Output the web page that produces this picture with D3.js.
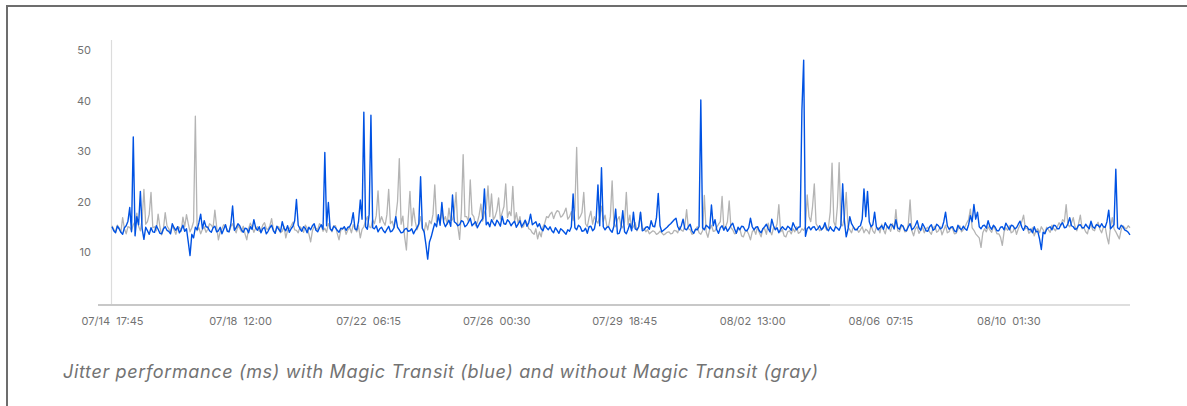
<!DOCTYPE html>
<html><head><meta charset="utf-8">
<script src="https://cdn.jsdelivr.net/npm/d3@7"></script>
<style>
body{margin:0;background:#fff;}
svg{display:block;font-family:Inter,"Noto Sans",sans-serif;}
</style></head><body>
<svg id="c" width="1187" height="406"></svg>
<script>
const startTime = "2019-07-14T17:45";
const stepMinutes = 75;
const yTicks = [10, 20, 30, 40, 50];
const xTicks = ["2019-07-14T17:45","2019-07-18T12:00","2019-07-22T06:15","2019-07-26T00:30","2019-07-29T18:45","2019-08-02T13:00","2019-08-06T07:15","2019-08-10T01:30"];
const caption = "Jitter performance (ms) with Magic Transit (blue) and without Magic Transit (gray)";

const withMagicTransit = [
15.0,14.2,13.8,15.1,14.6,13.9,13.5,14.8,15.2,16.1,18.8,14.0,32.8,13.2,17.0,15.4,22.0,14.6,12.5,14.9,
14.2,13.5,14.8,14.0,13.9,15.2,14.5,13.7,13.6,14.6,15.0,14.3,14.1,13.6,15.6,14.8,14.3,15.0,13.8,14.4,
15.3,14.1,14.6,12.0,9.3,13.5,12.8,14.9,14.4,15.8,17.5,14.6,16.2,15.0,14.9,14.2,13.9,14.8,15.1,14.0,
14.2,14.9,13.6,14.5,15.4,14.1,14.0,15.5,19.1,14.3,14.8,15.6,15.2,14.4,13.9,14.7,14.6,13.8,15.0,14.5,
16.4,14.8,14.3,15.0,13.8,14.6,14.9,13.6,14.1,14.8,15.3,14.2,13.7,15.1,14.5,14.0,16.0,14.7,14.2,15.2,
13.9,14.6,15.1,16.2,20.4,15.3,14.6,14.1,15.0,14.7,13.8,14.9,14.4,15.2,15.6,14.3,14.0,14.8,15.4,14.5,
29.7,15.2,19.8,14.6,14.2,15.1,14.8,14.3,13.9,14.7,14.6,15.0,14.3,14.9,15.0,15.8,17.8,14.6,14.4,16.0,
20.3,16.5,37.7,15.0,14.5,17.5,37.1,14.8,14.6,15.2,14.0,14.6,14.9,14.2,13.8,14.5,15.1,14.0,14.2,14.8,
17.0,14.9,14.4,13.8,13.9,14.5,14.7,14.1,14.2,14.6,13.6,14.3,14.8,15.6,24.9,14.7,14.0,11.5,8.6,12.0,
13.0,14.4,15.7,15.0,17.4,15.3,19.8,15.9,15.0,15.6,16.3,15.1,21.3,16.0,15.7,15.2,15.4,16.2,16.0,15.0,
15.3,15.9,16.7,15.2,15.6,16.0,14.8,15.5,16.1,16.6,22.5,15.4,15.9,15.0,16.4,15.7,15.2,16.3,15.8,15.1,
17.1,15.6,15.5,16.4,16.0,15.2,15.7,16.1,14.9,15.5,16.2,15.0,15.6,16.3,15.1,15.8,17.5,15.4,15.7,16.0,
15.0,15.6,14.6,14.2,15.3,14.8,14.4,15.0,14.2,13.8,14.8,14.3,13.7,14.6,14.3,13.9,13.5,14.4,14.1,15.0,
21.5,14.8,14.4,15.3,15.0,14.1,14.2,14.7,13.7,15.0,15.1,14.2,14.6,16.5,23.3,15.2,26.7,15.0,14.4,14.9,
15.0,14.3,13.9,15.1,18.5,13.6,13.7,14.8,18.2,14.0,13.6,14.5,15.6,14.2,17.9,14.6,14.4,15.0,17.9,14.2,
14.4,14.9,15.0,14.5,16.2,15.1,15.0,16.8,21.6,15.2,14.0,14.3,14.6,14.9,15.3,15.6,16.0,16.4,16.7,15.0,
14.4,15.2,16.5,14.6,14.4,15.0,15.5,14.2,13.7,14.5,14.4,15.0,40.1,14.8,14.4,15.3,15.0,14.6,19.3,15.2,
16.4,14.4,13.7,14.8,15.2,14.3,15.0,14.1,14.6,15.3,15.7,14.6,13.7,14.9,14.4,15.1,15.0,14.3,14.2,14.8,
16.7,15.0,14.4,14.9,15.0,14.2,13.8,14.6,15.0,15.5,14.6,14.0,16.5,15.2,14.4,14.8,13.8,14.5,15.0,14.6,
14.4,15.1,14.8,14.3,15.8,15.0,14.4,14.9,15.0,38.0,48.0,13.1,14.6,15.0,14.4,14.9,15.0,14.3,14.6,15.2,
14.4,14.8,15.8,14.6,14.2,15.0,14.4,14.1,15.0,14.7,14.3,15.2,23.5,16.0,13.0,14.5,17.0,15.6,15.0,14.4,
14.4,15.0,15.2,16.5,22.5,17.0,22.0,16.0,15.0,15.4,17.9,15.0,14.4,14.8,15.2,14.5,15.8,15.1,14.6,15.5,
15.3,14.6,16.4,14.8,14.5,15.4,15.1,14.3,14.2,15.0,15.6,14.4,14.7,15.3,16.2,14.8,14.3,15.6,15.0,14.2,
14.1,15.0,15.4,14.3,14.6,15.5,15.2,14.6,14.8,16.0,17.9,15.2,14.5,14.9,15.0,14.2,14.0,15.3,14.7,14.4,
15.1,14.6,14.3,15.4,17.2,16.0,19.4,16.5,17.9,15.0,14.6,15.2,15.3,14.7,16.2,15.0,14.5,15.3,14.9,14.2,
14.2,14.9,15.0,14.4,15.7,15.1,14.4,15.3,15.2,14.6,14.8,15.5,16.1,14.9,14.3,15.2,15.0,14.4,14.5,13.8,
15.0,14.0,14.1,12.6,10.5,13.9,13.6,14.5,14.8,15.0,14.4,15.3,15.2,14.6,14.6,15.4,15.8,14.8,14.9,15.6,
16.8,15.2,15.0,14.5,14.6,15.3,15.4,14.8,14.8,15.5,15.0,14.6,16.1,15.0,14.7,15.4,15.3,14.9,15.6,15.0,
14.9,16.0,18.3,14.6,15.0,15.4,26.4,14.8,14.5,15.3,15.0,14.4,14.2,13.9,13.4
];

const withoutMagicTransit = [
15.2,14.5,14.0,15.3,14.8,13.9,16.8,14.6,13.6,15.0,14.9,14.2,15.4,16.0,17.7,15.1,14.2,16.5,22.4,15.5,
16.0,17.5,21.8,14.8,15.0,14.2,17.5,15.0,13.4,14.6,17.8,15.2,14.6,13.8,15.2,14.4,13.5,15.0,14.9,14.1,
16.9,15.0,17.4,15.6,14.0,14.8,16.0,36.9,14.2,14.8,13.6,14.5,15.0,13.9,14.5,15.6,15.3,14.8,18.3,15.0,
12.4,14.0,14.6,15.4,15.2,14.3,14.0,15.0,15.6,14.5,13.8,15.2,14.7,14.0,15.1,13.6,12.4,14.6,15.7,14.9,
13.9,14.7,15.0,14.1,14.2,15.3,15.8,14.6,14.5,15.2,16.6,14.4,13.7,14.9,15.0,13.8,14.1,15.1,12.8,14.3,
14.6,15.2,15.9,14.4,14.3,13.8,15.0,14.6,13.9,15.3,14.8,13.6,12.0,14.2,15.1,14.7,14.4,15.6,15.3,14.1,
14.7,13.9,15.6,14.8,14.0,15.1,15.2,13.7,12.4,14.3,14.5,15.0,13.5,14.4,14.9,13.8,15.4,14.6,14.0,15.2,
12.8,14.5,15.0,16.2,17.0,15.0,14.8,16.4,15.6,17.2,22.1,15.8,17.0,16.0,15.3,17.4,22.4,15.6,16.1,14.8,
17.0,20.0,28.5,15.5,17.1,13.0,10.4,16.5,22.0,15.2,18.7,16.0,14.4,15.4,17.0,14.6,13.9,15.8,14.4,16.2,
15.6,17.5,23.3,16.0,17.0,15.8,18.1,16.3,17.0,15.5,18.7,16.2,16.4,18.0,21.8,15.0,12.5,18.0,29.3,17.0,
17.0,16.0,24.3,17.5,17.0,15.2,15.8,17.3,19.5,16.1,17.8,18.5,23.1,17.0,21.5,16.4,17.0,18.2,20.7,16.5,
17.8,19.0,23.5,16.8,18.0,17.2,23.0,16.0,17.8,15.6,17.0,14.8,15.0,16.2,15.7,14.6,14.4,13.8,13.5,14.6,
12.6,14.0,13.0,15.0,15.7,17.0,16.8,17.5,17.9,16.6,17.6,18.2,18.0,16.9,17.2,17.8,18.7,16.5,17.0,18.0,
16.2,18.5,30.7,16.5,17.0,17.8,21.8,15.6,15.0,16.8,18.1,15.5,17.0,16.2,15.7,17.0,19.1,16.0,17.3,15.2,
15.0,17.0,24.1,15.6,15.0,16.4,17.0,15.2,14.8,16.0,21.8,15.4,17.3,14.6,15.0,15.8,14.2,15.0,17.8,14.6,
14.7,14.0,14.4,13.6,13.9,14.2,14.0,13.5,13.7,14.1,13.8,13.4,13.6,13.9,14.0,13.6,13.7,14.3,14.2,13.8,
15.0,14.3,14.1,15.2,18.4,14.6,14.4,13.5,13.7,14.4,15.0,13.8,13.5,14.2,21.2,14.0,12.9,14.5,15.3,14.1,
14.2,14.9,15.5,16.0,21.0,14.6,15.0,16.0,20.1,14.8,14.4,13.6,13.7,14.4,14.6,13.2,13.0,14.0,14.2,13.5,
12.4,14.0,14.4,13.5,15.0,13.8,13.0,14.6,14.6,13.5,15.7,14.2,13.4,14.8,14.5,15.6,19.4,14.0,14.4,13.2,
13.0,14.0,14.2,13.6,14.6,14.0,15.0,13.7,13.9,14.6,14.3,15.0,21.3,17.0,16.0,19.0,23.5,15.6,15.0,14.2,
14.4,14.9,15.2,14.3,15.0,18.0,27.6,16.0,15.0,19.0,27.7,15.5,15.2,17.0,21.8,15.0,14.4,13.8,15.0,14.5,
14.6,13.9,14.4,15.0,13.8,14.5,14.2,13.6,15.3,14.2,13.7,14.9,14.8,13.8,15.5,14.4,13.6,15.2,14.9,14.1,
15.6,14.5,18.4,14.2,14.0,15.0,15.2,14.0,14.1,15.5,20.3,14.2,13.2,14.6,15.0,13.7,14.3,14.9,13.8,14.6,
14.9,14.0,13.5,14.8,15.1,13.9,14.2,15.0,13.4,14.3,15.3,13.8,14.0,14.9,14.6,13.6,13.7,14.5,15.2,14.0,
14.4,15.0,15.8,16.4,18.5,14.8,14.3,13.6,13.2,12.8,10.9,13.8,14.6,14.0,15.0,14.4,13.9,15.1,14.5,13.6,
13.6,12.9,11.3,14.0,14.8,14.3,15.2,13.8,14.0,14.9,13.5,14.6,15.4,16.0,17.3,14.6,14.8,13.7,14.1,14.8,
13.2,14.2,14.6,13.8,15.0,14.4,13.7,14.9,14.4,13.9,15.3,14.6,14.2,15.0,15.8,15.2,16.4,16.0,19.4,15.4,
15.0,15.8,16.8,15.0,14.2,15.6,17.3,14.6,14.8,14.0,13.6,15.2,15.5,14.4,14.2,15.3,15.9,14.5,13.8,14.9,
15.0,13.0,11.6,15.0,16.8,14.6,14.0,13.3,12.6,14.4,15.2,14.8,14.6,15.2,14.8
];

const parse = d3.timeParse("%Y-%m-%dT%H:%M");
const fmt = d3.timeFormat("%m/%d  %H:%M");
const t0 = parse(startTime);
const times = withMagicTransit.map((_, i) => d3.timeMinute.offset(t0, i * stepMinutes));

const svg = d3.select("#c");

// frame
svg.append("line").attr("x1", 6).attr("x2", 1187).attr("y1", 6).attr("y2", 6)
  .attr("stroke", "#6d6d6d").attr("stroke-width", 2);
svg.append("line").attr("x1", 7).attr("x2", 7).attr("y1", 5).attr("y2", 406)
  .attr("stroke", "#6d6d6d").attr("stroke-width", 2);

const x = d3.scaleTime().domain([t0, times[times.length - 1]]).range([112, 1130]);
const y = d3.scaleLinear().domain([0, 50]).range([302.5, 50]);

// y axis line
svg.append("line").attr("x1", 111.5).attr("x2", 111.5).attr("y1", 40).attr("y2", 305)
  .attr("stroke", "#dcdcdc").attr("stroke-width", 1.2);

// baseline
svg.append("line").attr("x1", 98).attr("x2", 830).attr("y1", 305).attr("y2", 305)
  .attr("stroke", "#c8c8c8").attr("stroke-width", 2);
svg.append("line").attr("x1", 830).attr("x2", 1130).attr("y1", 305).attr("y2", 305)
  .attr("stroke", "#dedede").attr("stroke-width", 2);

// y ticks
const yAxis = svg.append("g").attr("transform", "translate(111,0)")
  .call(d3.axisLeft(y).tickValues(yTicks).tickSize(0).tickPadding(20).tickFormat(d3.format("d")));
yAxis.select(".domain").remove();
yAxis.selectAll("text").attr("fill", "#727272").attr("font-size", 11).attr("font-family", "Inter");

// x ticks
const xAxis = svg.append("g").attr("transform", "translate(0,305)")
  .call(d3.axisBottom(x).tickValues(xTicks.map(parse)).tickSize(0).tickPadding(12).tickFormat(fmt));
xAxis.select(".domain").remove();
xAxis.selectAll("text").attr("fill", "#727272").attr("font-size", 11).attr("font-family", "Inter")
  .style("white-space", "pre");

const line = d3.line().x((d, i) => x(times[i])).y(d => y(d));

svg.append("path").datum(withoutMagicTransit).attr("d", line)
  .attr("fill", "none").attr("stroke", "#b4b4b4").attr("stroke-width", 1.3).attr("stroke-linejoin", "round");
svg.append("path").datum(withMagicTransit).attr("d", line)
  .attr("fill", "none").attr("stroke", "#0052e3").attr("stroke-width", 1.4).attr("stroke-linejoin", "round");

svg.append("text").attr("x", 63).attr("y", 378)
  .attr("font-size", 18).attr("font-style", "italic").attr("fill", "#737373")
  .attr("font-family", "Inter")
  .attr("textLength", 755).attr("lengthAdjust", "spacing")
  .text(caption);
</script>
</body></html>
